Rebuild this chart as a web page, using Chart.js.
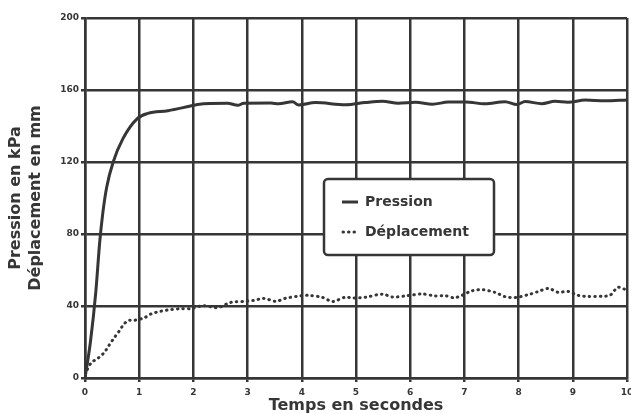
<!DOCTYPE html>
<html>
<head>
<meta charset="utf-8">
<script src="https://cdn.jsdelivr.net/npm/chart.js@4/dist/chart.umd.min.js"></script>
<style>
  body { margin: 0; background: #fff; }
  #wrap { width: 631px; height: 414px; }
</style>
</head>
<body>
<div id="wrap"><canvas id="mainChart" width="631" height="414"></canvas></div>
<script>
// Pression (kPa) vs temps (s)
const pressionT = [0, 0.1, 0.2, 0.27, 0.33, 0.4, 0.52, 0.7, 0.96, 1.16, 1.53, 1.9, 2.08, 2.63, 2.82, 2.93, 3.43, 3.57, 3.83, 3.94, 4.25, 4.81, 5.17, 5.49, 5.78, 6.1, 6.41, 6.7, 7.02, 7.38, 7.75, 7.97, 8.12, 8.43, 8.67, 8.91, 9.23, 9.59, 10];
const pressionV = [0, 20, 48, 75, 92, 106, 120, 133, 144, 147, 148.5, 150.8, 152, 152.6, 151.5, 152.7, 152.8, 152.3, 153.5, 151.7, 153, 151.8, 153, 153.7, 152.7, 153.2, 152.1, 153.3, 153.4, 152.3, 153.5, 151.9, 153.6, 152.4, 153.7, 153.2, 154.4, 154, 154.5];

// Deplacement (mm) vs temps (s)
const deplT = [0, 0.11, 0.24, 0.35, 0.44, 0.53, 0.63, 0.72, 0.81, 0.9, 1.09, 1.22, 1.4, 1.58, 1.77, 1.95, 2.19, 2.45, 2.69, 2.93, 3.11, 3.3, 3.52, 3.7, 3.92, 4.12, 4.38, 4.57, 4.8, 4.94, 5.18, 5.49, 5.67, 5.91, 6.22, 6.46, 6.65, 6.83, 7.15, 7.35, 7.57, 7.75, 7.94, 8.18, 8.36, 8.55, 8.73, 8.91, 9.1, 9.28, 9.54, 9.69, 9.83, 9.96];
const deplV = [2, 8.3, 11, 14, 18, 22, 26, 30, 32, 32, 33.4, 35.6, 37.1, 38, 38.5, 38.5, 40.2, 39.1, 42, 42.5, 43.1, 44.2, 42.6, 44.3, 45.4, 45.9, 44.8, 42.5, 44.9, 44.4, 44.9, 46.6, 45, 45.6, 46.7, 45.6, 45.7, 44.6, 48.5, 49, 47.5, 45.2, 44.7, 46.3, 48, 49.8, 47.6, 48.1, 45.9, 45.3, 45.4, 46, 50.4, 49.3];

const xTicks = [0, 1, 2, 3, 4, 5, 6, 7, 8, 9, 10];
const yTicks = [0, 40, 80, 120, 160, 200];

const ink = '#363636';
const fontFam = '"DejaVu Sans", sans-serif';
const dotDash = [0.5, 5];

function toPoints(ts, vs) {
    return ts.map((t, i) => ({ x: t, y: vs[i] }));
}

// legend drawn inside the plot, in a framed box
const boxLegend = {
    id: 'boxLegend',
    afterDraw(chart) {
        const ctx = chart.ctx;
        const ds = chart.data.datasets;
        ctx.save();
        ctx.fillStyle = '#fff';
        ctx.strokeStyle = ink;
        ctx.lineWidth = 2.5;
        ctx.beginPath();
        ctx.roundRect(324, 179, 170, 76, 4);
        ctx.fill();
        ctx.stroke();

        const rows = [202, 232];
        ds.forEach((d, i) => {
            const y = rows[i];
            ctx.strokeStyle = ink;
            ctx.lineWidth = 3;
            ctx.lineCap = d.borderDash ? 'round' : 'butt';
            ctx.setLineDash(d.borderDash || []);
            ctx.beginPath();
            if (d.borderDash) { ctx.moveTo(343, y); ctx.lineTo(355, y); }
            else { ctx.moveTo(342, y); ctx.lineTo(358, y); }
            ctx.stroke();
            ctx.setLineDash([]);
            ctx.fillStyle = ink;
            ctx.font = 'bold 14px ' + fontFam;
            ctx.textBaseline = 'middle';
            ctx.textAlign = 'left';
            ctx.fillText(d.label, 365, y);
        });
        ctx.restore();
    }
};

function initChart() {
    const ctx = document.getElementById('mainChart').getContext('2d');
    new Chart(ctx, {
        type: 'scatter',
        data: {
            datasets: [
                { label: 'Pression', data: toPoints(pressionT, pressionV), showLine: true, borderColor: ink, borderWidth: 3, pointRadius: 0, cubicInterpolationMode: 'monotone' },
                { label: 'Déplacement', data: toPoints(deplT, deplV), showLine: true, borderColor: ink, borderWidth: 3, borderDash: dotDash, borderCapStyle: 'round', pointRadius: 0, tension: 0.3 }
            ]
        },
        options: {
            responsive: false, animation: false,
            layout: { padding: { top: 18, right: 4, left: 0, bottom: 0 } },
            plugins: { legend: { display: false }, tooltip: { enabled: false } },
            scales: {
                x: {
                    type: 'linear', min: 0, max: 10,
                    afterBuildTicks: s => { s.ticks = xTicks.map(v => ({ value: v })); },
                    afterFit: s => { s.height = 36; s.paddingLeft = 0; s.paddingRight = 0; },
                    grid: { color: ink, lineWidth: 2.5, tickLength: 4, tickColor: ink },
                    border: { color: ink, width: 2.5 },
                    ticks: { color: ink, padding: 5, maxRotation: 0, autoSkip: false, font: { family: fontFam, size: 9, weight: 'bold' } },
                    title: { display: true, text: 'Temps en secondes', color: ink, padding: { top: 0, bottom: 0 }, font: { family: fontFam, size: 16, weight: 'bold', lineHeight: 1 } }
                },
                y: {
                    type: 'linear', min: 0, max: 200,
                    afterBuildTicks: s => { s.ticks = yTicks.map(v => ({ value: v })); },
                    afterFit: s => { s.width = 85; s.paddingTop = 0; s.paddingBottom = 0; },
                    grid: { color: ink, lineWidth: 2.5, tickLength: 4, tickColor: ink },
                    border: { color: ink, width: 2.5 },
                    ticks: { color: ink, padding: 2, autoSkip: false, font: { family: fontFam, size: 9, weight: 'bold' } },
                    title: { display: true, text: ['Pression en kPa', 'Déplacement en mm'], color: ink, padding: { top: 6, bottom: 0 }, font: { family: fontFam, size: 16, weight: 'bold', lineHeight: 1.25 } }
                }
            }
        },
        plugins: [boxLegend]
    });
}

initChart();
</script>
</body>
</html>
